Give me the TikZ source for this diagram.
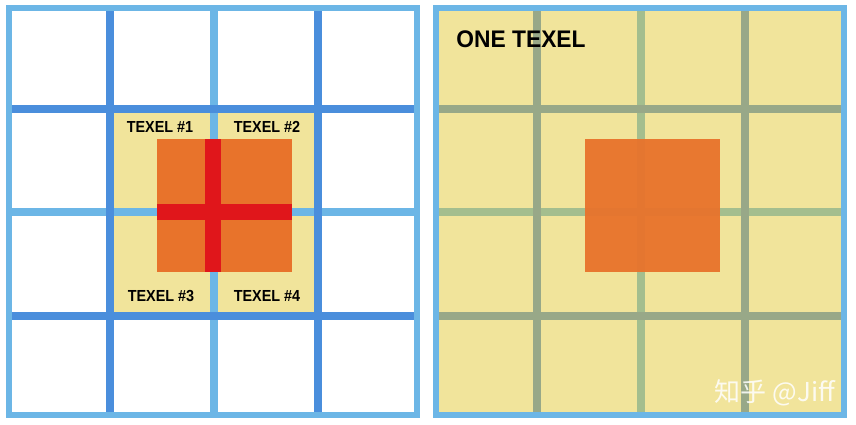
\documentclass[tikz,border=0pt]{standalone}
\usepackage{fontspec}
\setmainfont{Liberation Sans}
\newfontfamily\cjk{Noto Sans CJK SC}
\usetikzlibrary{math}
\definecolor{rimblue}{HTML}{6CB6E6}
\definecolor{lineblue}{HTML}{4A8EDC}
\definecolor{texelyellow}{HTML}{F1E49B}
\definecolor{sampleorange}{HTML}{E8732B}
\definecolor{crossred}{HTML}{E0161B}
\definecolor{linegrey}{HTML}{98A888}
\definecolor{linegreen}{HTML}{A4BE8E}

\begin{document}
\begin{tikzpicture}[x=1pt,y=-1pt,
    rim/.style={line width=6pt, draw=rimblue},
    gridline/.style={line width=8pt},
    label/.style={font=\bfseries\fontsize{16}{16}\selectfont, xscale=0.9, inner sep=0pt}]
      \tikzmath{\s = 427; \xa = 110; \xb = 214; \xc = 318; \ya = 109; \yb = 212; \yc = 316;}
      \useasboundingbox (0,0) rectangle (856,425);
      % left panel: four texels under the sample
      \fill[white] (9,8) rectangle (417,415);
      \fill[texelyellow] (\xa,\ya) rectangle (\xc,\yc);
      \draw[gridline, rimblue] (\xb,8) -- (\xb,415);
      \draw[gridline, rimblue] (9,\yb) -- (417,\yb);
      \draw[gridline, lineblue] (\xa,8) -- (\xa,415);
      \draw[gridline, lineblue] (\xc,8) -- (\xc,415);
      \draw[gridline, lineblue] (9,\ya) -- (417,\ya);
      \draw[gridline, lineblue] (9,\yc) -- (417,\yc);
      \fill[sampleorange] (157,139) rectangle (292,272);
      \fill[crossred] (205,139) rectangle (221,272);
      \fill[crossred] (157,204) rectangle (292,220);
      \draw[rim] (9,8) rectangle (417,415);
      \node[label] (texel1) at (160,127) {TEXEL \#1};
      \node[label] (texel2) at (267,127) {TEXEL \#2};
      \node[label] (texel3) at (161,296) {TEXEL \#3};
      \node[label] (texel4) at (267,296) {TEXEL \#4};
      % right panel: one texel
      \fill[texelyellow] (9+\s,8) rectangle (417+\s,415);
      \draw[gridline, linegreen] (\xb+\s,8) -- (\xb+\s,415);
      \draw[gridline, linegreen] (9+\s,\yb) -- (417+\s,\yb);
      \draw[gridline, linegrey] (\xa+\s,8) -- (\xa+\s,415);
      \draw[gridline, linegrey] (\xc+\s,8) -- (\xc+\s,415);
      \draw[gridline, linegrey] (9+\s,\ya) -- (417+\s,\ya);
      \draw[gridline, linegrey] (9+\s,\yc) -- (417+\s,\yc);
      \fill[sampleorange, fill opacity=0.95] (585,139) rectangle (720,272);
      \draw[rim] (9+\s,8) rectangle (417+\s,415);
      \node[font=\bfseries\fontsize{24}{24}\selectfont, xscale=0.95, inner sep=0pt] (onetexel) at (521,39) {ONE TEXEL};
      \node[font=\cjk\fontsize{26}{26}\selectfont, text=white, text opacity=0.85, inner sep=0pt] (mark) at (775,393) {知乎 @Jiff};
\end{tikzpicture}
\end{document}
